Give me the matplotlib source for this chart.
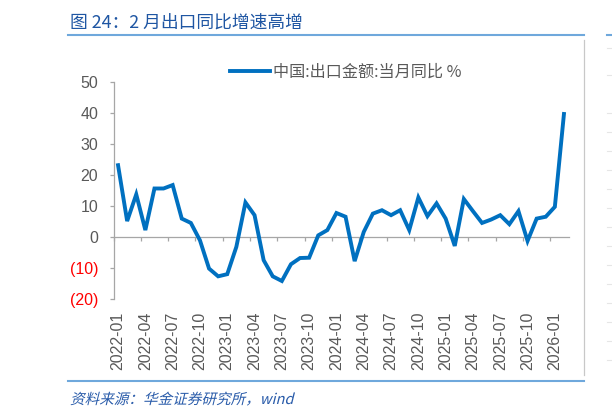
import numpy as np
import pandas as pd
import matplotlib
matplotlib.use("Agg")
import matplotlib.pyplot as plt
from matplotlib.lines import Line2D
from matplotlib.textpath import TextPath
from matplotlib.patches import PathPatch
from matplotlib.font_manager import FontProperties
from matplotlib.transforms import Affine2D, IdentityTransform

# ---------------- data ----------------
months = [p.strftime("%Y-%m") for p in pd.period_range("2022-01", "2026-02", freq="M")]
export_yoy = [23.1, 5.1, 13.7, 2.2, 15.6, 15.6, 16.7, 5.9, 4.5, -1.1,
              -10.2, -12.7, -12.0, -3.2, 11.1, 7.0, -7.5, -12.7, -14.2, -8.8,
              -6.8, -6.7, 0.5, 2.2, 7.7, 6.5, -7.8, 1.6, 7.5, 8.6,
              7.0, 8.6, 2.2, 12.7, 6.7, 10.8, 5.9, -2.9, 12.2, 8.3,
              4.5, 5.6, 7.0, 4.1, 8.3, -1.3, 5.9, 6.5, 9.7, 39.6]
series_label = "中国:出口金额:当月同比 %"
x_tick_labels = months[::3]
y_ticks = [-20, -10, 0, 10, 20, 30, 40, 50]
y_tick_labels = ["(20)", "(10)", "0", "10", "20", "30", "40", "50"]
title_text = "图 24：2 月出口同比增速高增"
source_text = "资料来源：华金证券研究所，wind"

# ---------------- style ----------------
W, H = 612, 416
CJK = ["Noto Sans CJK SC", "DejaVu Sans"]
LAT = ["Liberation Sans", "DejaVu Sans"]
GRAY_TXT = "#595959"
AXIS_GRAY = "#A6A6A6"
LINE_BLUE = "#0070C0"
TITLE_BLUE = "#1F56A3"
RULE_BLUE = "#6FA8DC"

fig = plt.figure(figsize=(W / 100, H / 100), dpi=100)
fig.patch.set_facecolor("white")

def fx(px):
    return px / W

def fy(py):
    return 1 - py / H

ax_left, ax_right, ax_top, ax_bottom = 113.5, 568.5, 81.7, 299.0
ax = fig.add_axes([fx(ax_left), fy(ax_bottom), fx(ax_right) - fx(ax_left),
                   fy(ax_top) - fy(ax_bottom)])

x = np.arange(len(export_yoy))
ax.plot(x, export_yoy, color=LINE_BLUE, lw=2.8, solid_joinstyle="miter",
        label=series_label, zorder=3)

ax.set_xlim(-0.5, len(export_yoy) - 0.5)
ax.set_ylim(y_ticks[0], y_ticks[-1])

# spines
for s in ["top", "right"]:
    ax.spines[s].set_visible(False)
ax.spines["left"].set_color(AXIS_GRAY)
ax.spines["left"].set_linewidth(0.9)
ax.spines["bottom"].set_position(("data", 0))
ax.spines["bottom"].set_color(AXIS_GRAY)
ax.spines["bottom"].set_linewidth(0.9)

# y ticks
ax.set_yticks(y_ticks)
ax.set_yticklabels(y_tick_labels, family=LAT, fontsize=11.5)
ax.tick_params(axis="y", direction="out", length=3, width=0.9, color=AXIS_GRAY,
               pad=8)
for lab, v in zip(ax.get_yticklabels(), y_ticks):
    lab.set_color("#FF0000" if v < 0 else GRAY_TXT)

# x tick marks between categories on the zero line
ax.set_xticks(np.arange(-0.5, len(export_yoy) - 1, 3))
ax.tick_params(axis="x", direction="out", length=3, width=0.9, color=AXIS_GRAY,
               labelbottom=False)

# category labels at bottom
sec = ax.secondary_xaxis("bottom")
sec.set_xticks(x[::3])
sec.set_xticklabels(x_tick_labels, rotation=90, family=LAT, fontsize=11.5,
                    color=GRAY_TXT, va="top")
sec.tick_params(length=0, pad=9)
sec.spines["bottom"].set_visible(False)

# legend
leg = fig.legend(loc="center left", bbox_to_anchor=(fx(230), fy(72)),
                 frameon=False, handlelength=2.5, handletextpad=0.15,
                 borderpad=0, borderaxespad=0,
                 prop=FontProperties(family=CJK, size=11.6))
for t in leg.get_texts():
    t.set_color(GRAY_TXT)

# title
fig.text(fx(70), fy(22.7), title_text, ha="left", va="center",
         family=CJK, fontsize=12.8, color=TITLE_BLUE)

# rules
fig.add_artist(Line2D([fx(68), fx(584)], [fy(34.5), fy(34.5)],
                      color=RULE_BLUE, lw=1.5))
fig.add_artist(Line2D([fx(68), fx(584)], [fy(381), fy(381)],
                      color=RULE_BLUE, lw=1.5))
fig.add_artist(Line2D([fx(583.5), fx(583.5)], [fy(40), fy(375)],
                      color="#C8C8C8", lw=0.9))

# neighbouring panel fragment at right edge
fig.add_artist(Line2D([fx(607), fx(612)], [fy(34.5), fy(34.5)],
                      color=RULE_BLUE, lw=1.5))
for gy in [48, 75, 113, 132, 151, 170, 189, 208, 227, 246, 265, 284,
           303, 322, 341, 360]:
    fig.add_artist(Line2D([fx(607), fx(612)], [fy(gy), fy(gy)],
                          color="#E6E6E6", lw=0.8))

# italic source note via skewed text path
fp = FontProperties(family="Noto Sans CJK SC")
tp = TextPath((0, 0), source_text, size=14.6, prop=fp)
tr = Affine2D().skew_deg(14, 0).translate(70, H - 404)
patch = PathPatch(tr.transform_path(tp), facecolor="#2A5CAA", edgecolor="none")
patch.set_transform(IdentityTransform())
fig.add_artist(patch)

fig.savefig("out.png", dpi=100, facecolor="white")
